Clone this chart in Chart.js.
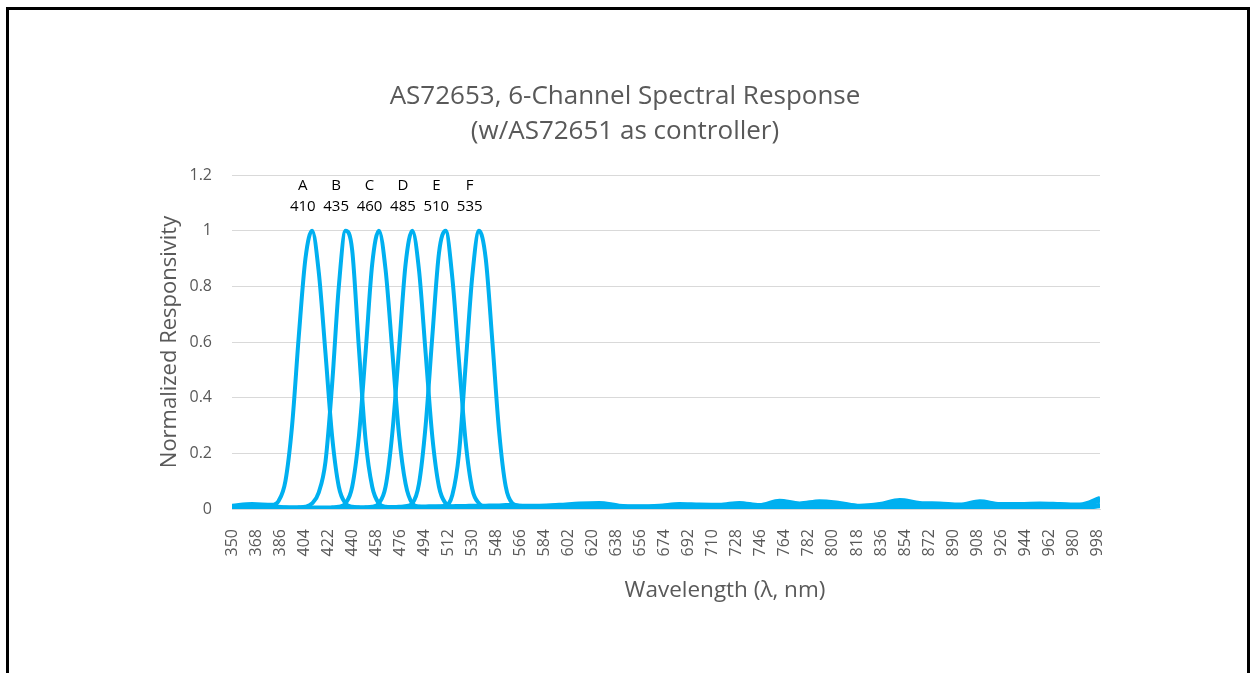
<!DOCTYPE html>
<html>
<head>
<meta charset="utf-8">
<script src="https://cdn.jsdelivr.net/npm/chart.js@4.4.1/dist/chart.umd.min.js"></script>
<style>
    html, body { margin: 0; padding: 0; background: #fff; overflow: hidden; }
    #wrap { position: relative; width: 1250px; height: 673px; }
    #frame {
        position: absolute; left: 6px; top: 7px; width: 1244px; height: 700px;
        box-sizing: border-box; border: 3px solid #000; pointer-events: none;
    }
</style>
</head>
<body>
<div id="wrap">
    <canvas id="spectrum"></canvas>
    <div id="frame"></div>
</div>
<script>
// === Données ===
const titleLines = ["AS72653, 6-Channel Spectral Response", "(w/AS72651 as controller)"];
const xTitle = "Wavelength (λ, nm)";
const yTitle = "Normalized Responsivity";

const channelNames = ["A", "B", "C", "D", "E", "F"];
const channelPeaks = [410, 435, 460, 485, 510, 535];

const xTickValues = [350, 368, 386, 404, 422, 440, 458, 476, 494, 512, 530, 548, 566, 584, 602, 620,
    638, 656, 674, 692, 710, 728, 746, 764, 782, 800, 818, 836, 854, 872, 890, 908, 926, 944, 962, 980, 998];

const wavelengths = [350, 365, 380, 385, 390, 395, 400, 405, 410, 415, 420, 425, 430, 435, 440, 445,
    450, 455, 460, 465, 470, 475, 480, 485, 490, 495, 500, 505, 510, 515, 520, 525, 530, 535, 540, 545,
    550, 555, 560, 565, 580, 595, 610, 625, 640, 655, 670, 685, 700, 715, 730, 745, 760, 775, 790, 805,
    820, 835, 850, 865, 880, 895, 910, 925, 940, 955, 970, 985, 1000];

const chA = [0.012, 0.018, 0.015, 0.03, 0.1, 0.3, 0.62, 0.9, 1.0, 0.85, 0.56, 0.26, 0.08, 0.02, 0.008, 0.006,
    0.005, 0.005, 0.006, 0.006, 0.007, 0.007, 0.008, 0.008, 0.009, 0.009, 0.01, 0.01, 0.01, 0.01, 0.011, 0.011,
    0.012, 0.012, 0.012, 0.013, 0.013, 0.014, 0.014, 0.012,
    0.012, 0.015, 0.02, 0.022, 0.012, 0.01, 0.012, 0.018, 0.016, 0.015, 0.022, 0.014, 0.03, 0.02, 0.028,
    0.022, 0.012, 0.018, 0.032, 0.022, 0.02, 0.016, 0.028, 0.018, 0.018, 0.02, 0.018, 0.016, 0.04];
const chB = [0.006, 0.008, 0.006, 0.005, 0.005, 0.005, 0.006, 0.008, 0.02, 0.06, 0.17, 0.45, 0.8, 1.0, 0.93, 0.58,
    0.25, 0.08, 0.02, 0.008, 0.006, 0.005, 0.005, 0.005, 0.005, 0.005, 0.005, 0.005, 0.006, 0.006, 0.006, 0.006,
    0.006, 0.007, 0.007, 0.007, 0.007, 0.008, 0.008, 0.008,
    0.007, 0.008, 0.01, 0.012, 0.008, 0.006, 0.007, 0.01, 0.012, 0.01, 0.014, 0.01, 0.02, 0.014, 0.02,
    0.016, 0.009, 0.012, 0.024, 0.016, 0.014, 0.011, 0.02, 0.013, 0.014, 0.015, 0.013, 0.011, 0.03];
const chC = [0.01, 0.012, 0.01, 0.008, 0.006, 0.005, 0.005, 0.005, 0.005, 0.005, 0.005, 0.006, 0.008, 0.02, 0.08, 0.26,
    0.56, 0.88, 1.0, 0.86, 0.57, 0.27, 0.09, 0.02, 0.008, 0.006, 0.005, 0.005, 0.005, 0.005, 0.005, 0.005,
    0.005, 0.005, 0.005, 0.005, 0.006, 0.006, 0.006, 0.006,
    0.005, 0.005, 0.006, 0.006, 0.005, 0.004, 0.005, 0.006, 0.006, 0.006, 0.007, 0.006, 0.01, 0.008, 0.01,
    0.008, 0.005, 0.007, 0.012, 0.008, 0.007, 0.006, 0.01, 0.007, 0.007, 0.008, 0.007, 0.006, 0.015];
const chD = [0.004, 0.005, 0.004, 0.004, 0.004, 0.004, 0.004, 0.004, 0.004, 0.004, 0.004, 0.004, 0.004, 0.005, 0.005, 0.005,
    0.006, 0.008, 0.02, 0.08, 0.27, 0.57, 0.88, 1.0, 0.86, 0.56, 0.26, 0.08, 0.02, 0.008, 0.005, 0.004,
    0.004, 0.004, 0.004, 0.004, 0.004, 0.004, 0.004, 0.004,
    0.003, 0.003, 0.004, 0.004, 0.003, 0.003, 0.003, 0.004, 0.004, 0.004, 0.005, 0.004, 0.006, 0.005, 0.006,
    0.005, 0.003, 0.004, 0.007, 0.005, 0.004, 0.004, 0.006, 0.004, 0.004, 0.005, 0.004, 0.004, 0.01];
const chE = [0.003, 0.003, 0.003, 0.003, 0.003, 0.003, 0.003, 0.003, 0.003, 0.003, 0.003, 0.003, 0.003, 0.003, 0.003, 0.003,
    0.004, 0.004, 0.004, 0.005, 0.006, 0.008, 0.01, 0.02, 0.09, 0.3, 0.62, 0.92, 1.0, 0.83, 0.53, 0.24,
    0.07, 0.02, 0.008, 0.005, 0.004, 0.004, 0.004, 0.004,
    0.004, 0.004, 0.005, 0.005, 0.004, 0.003, 0.004, 0.005, 0.005, 0.005, 0.006, 0.005, 0.008, 0.006, 0.008,
    0.006, 0.004, 0.005, 0.009, 0.006, 0.005, 0.005, 0.008, 0.005, 0.005, 0.006, 0.005, 0.005, 0.012];
const chF = [0.002, 0.002, 0.002, 0.002, 0.002, 0.002, 0.002, 0.002, 0.002, 0.002, 0.002, 0.002, 0.002, 0.002, 0.002, 0.002,
    0.002, 0.002, 0.002, 0.003, 0.003, 0.003, 0.003, 0.004, 0.004, 0.005, 0.006, 0.008, 0.012, 0.05, 0.2, 0.52,
    0.84, 1.0, 0.9, 0.6, 0.28, 0.08, 0.02, 0.012,
    0.01, 0.012, 0.015, 0.016, 0.01, 0.008, 0.01, 0.014, 0.014, 0.012, 0.018, 0.012, 0.025, 0.017, 0.024,
    0.018, 0.01, 0.015, 0.028, 0.019, 0.017, 0.013, 0.024, 0.015, 0.016, 0.017, 0.015, 0.013, 0.035];

const channels = [chA, chB, chC, chD, chE, chF];

// === Style ===
const lineColor = "#00b0f0";
const textColor = "#595959";
Chart.defaults.font.family = "'Open Sans', sans-serif";

// Etiquettes "A / 410" au-dessus des pics
const peakLabels = {
    id: "peakLabels",
    afterDatasetsDraw(chart) {
        const { ctx, scales: { x, y } } = chart;
        ctx.save();
        ctx.fillStyle = "#000";
        ctx.font = "15px 'Open Sans', sans-serif";
        ctx.textAlign = "center";
        ctx.textBaseline = "middle";
        channelNames.forEach((name, i) => {
            const px = x.getPixelForValue(channelPeaks[i] - 7);
            ctx.fillText(name, px, y.getPixelForValue(1.16));
            ctx.fillText(String(channelPeaks[i]), px, y.getPixelForValue(1.085));
        });
        ctx.restore();
    }
};

// Titre de l'axe X (décalé comme dans Excel)
const xAxisTitle = {
    id: "xAxisTitle",
    afterDraw(chart) {
        const { ctx } = chart;
        ctx.save();
        ctx.fillStyle = textColor;
        ctx.font = "22.5px 'Open Sans', sans-serif";
        ctx.textAlign = "center";
        ctx.textBaseline = "middle";
        ctx.fillText(xTitle, 725, 591);
        ctx.restore();
    }
};

new Chart(document.getElementById("spectrum"), {
    type: "line",
    data: {
        datasets: channels.map((values, i) => ({
            label: channelNames[i],
            data: wavelengths.map((w, j) => ({ x: w, y: values[j] })),
            borderColor: lineColor,
            borderWidth: 4,
            pointRadius: 0,
            fill: false,
            cubicInterpolationMode: "monotone"
        }))
    },
    options: {
        responsive: true,
        maintainAspectRatio: false,
        animation: false,
        layout: { padding: 0 },
        plugins: {
            legend: { display: false },
            tooltip: { enabled: false },
            title: {
                display: true,
                text: titleLines,
                color: textColor,
                font: { size: 26, weight: "normal", lineHeight: 1.35 },
                padding: { top: 79, bottom: 25.8 }
            }
        },
        scales: {
            x: {
                type: "linear",
                min: 350,
                max: 1000,
                afterBuildTicks: axis => { axis.ticks = xTickValues.map(v => ({ value: v })); },
                afterFit: axis => { axis.height = 164; },
                grid: { display: false },
                border: { display: true, color: "#d9d9d9" },
                ticks: {
                    autoSkip: false,
                    minRotation: 90,
                    maxRotation: 90,
                    padding: 12,
                    color: textColor,
                    font: { size: 16 },
                    callback: v => String(v)
                }
            },
            y: {
                min: 0,
                max: 1.2,
                afterFit: axis => { axis.width = 232; },
                grid: { color: "#d9d9d9", drawTicks: false },
                border: { display: false },
                ticks: {
                    stepSize: 0.2,
                    padding: 20,
                    color: textColor,
                    font: { size: 16 },
                    callback: v => String(Number(v.toFixed(1)))
                },
                title: {
                    display: true,
                    text: yTitle,
                    color: textColor,
                    font: { size: 22 },
                    padding: { top: 157, bottom: 0 }
                }
            },
            right: {
                position: "right",
                afterFit: axis => { axis.width = 150; },
                grid: { display: false },
                border: { display: false },
                ticks: { display: false }
            }
        }
    },
    plugins: [peakLabels, xAxisTitle]
});
</script>
</body>
</html>
